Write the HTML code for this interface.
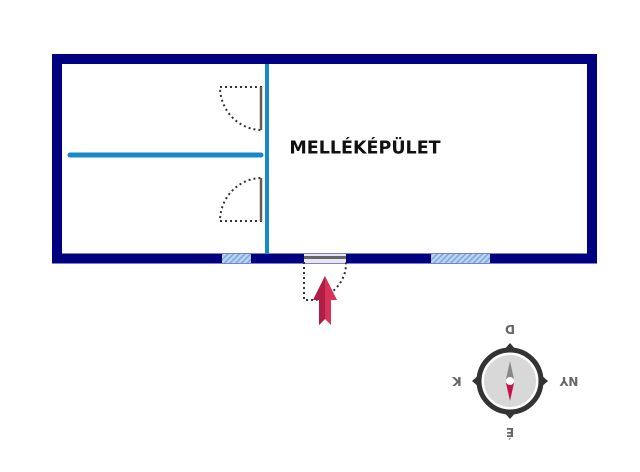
<!DOCTYPE html>
<html><head><style>body{margin:0;background:#fff}svg{display:block}</style></head><body>
<svg width="640" height="472" viewBox="0 0 640 472" xmlns="http://www.w3.org/2000/svg">
<defs><pattern id="h" width="4" height="4" patternUnits="userSpaceOnUse" patternTransform="rotate(45)"><rect width="4" height="4" fill="#b8d4f0"/><rect width="1.5" height="4" fill="#7aa8de"/></pattern></defs>
<rect x="57" y="59" width="535" height="199.5" fill="none" stroke="#000080" stroke-width="10"/>
<rect x="222" y="254" width="29" height="9" fill="url(#h)"/>
<rect x="431" y="254" width="59" height="9" fill="url(#h)"/>
<rect x="304" y="254" width="42" height="9" fill="#e8e4f0"/>
<rect x="304" y="256" width="42" height="3" fill="#666"/>
<line x1="267" y1="64" x2="267" y2="254" stroke="#1888c8" stroke-width="4"/>
<line x1="70" y1="155" x2="261" y2="155" stroke="#1888c8" stroke-width="5" stroke-linecap="round"/>
<g fill="none" stroke="#333" stroke-width="2" stroke-dasharray="2 3">
<path d="M262 87 H220 A42 43 0 0 0 262 130"/>
<path d="M262 221 H220 A42 43 0 0 1 262 178"/>
<path d="M304 262 V300 H316 A42 38 0 0 0 346 262"/>
</g>
<line x1="261" y1="87" x2="261" y2="130" stroke="#6b5a50" stroke-width="2.5"/>
<line x1="261" y1="178" x2="261" y2="221" stroke="#6b5a50" stroke-width="2.5"/>
<polygon points="325,276 337,300 331,300 331,325 325,319 319,325 319,300 313,300" fill="#d8325a"/>
<polygon points="325,276 313,300 319,300 319,325 325,319" fill="#b01e46"/>
<text x="365" y="153.5" text-anchor="middle" font-family="DejaVu Sans, sans-serif" font-weight="bold" font-size="17.5" fill="#111">MELLÉKÉPÜLET</text>
<g transform="translate(510,381)">
<polygon points="0,-38 7,-30 -7,-30" fill="#333"/>
<polygon points="0,38 7,30 -7,30" fill="#333"/>
<polygon points="-38,0 -30,7 -30,-7" fill="#333"/>
<polygon points="38,0 30,7 30,-7" fill="#333"/>
<circle r="31" fill="#fff" stroke="#333" stroke-width="5"/>
<circle r="26" fill="#d8d8d8"/>
<polygon points="0,-20 -4,-2 4,-2" fill="#888"/>
<polygon points="0,20 -4,2 4,2" fill="#c8104a"/>
<circle r="4" fill="#fff"/>
<g font-family="DejaVu Sans, sans-serif" font-weight="bold" font-size="12" fill="#666" text-anchor="middle">
<text transform="translate(0,-52) rotate(180)" y="4">D</text>
<text transform="translate(0,51) rotate(180)" y="4">É</text>
<text transform="translate(-53,0) rotate(180)" y="4">K</text>
<text transform="translate(59,0) rotate(180)" y="4">NY</text>
</g></g>
</svg>
</body></html>
